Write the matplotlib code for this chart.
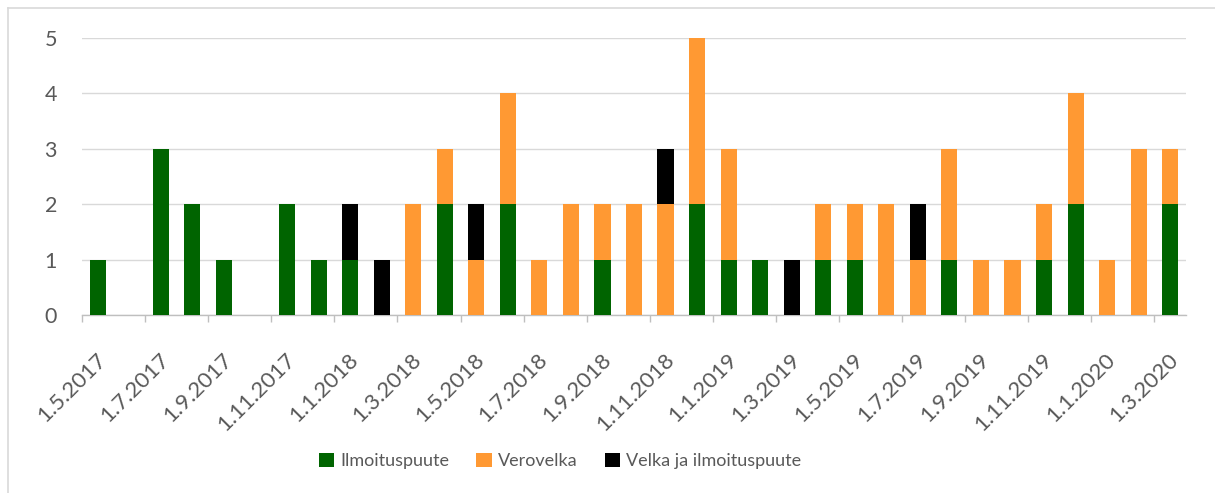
import matplotlib.pyplot as plt
import matplotlib.transforms as mtransforms
from matplotlib.lines import Line2D

plt.rcParams['font.family'] = ['Lato', 'DejaVu Sans']

months = ['1.5.2017', '1.6.2017', '1.7.2017', '1.8.2017', '1.9.2017', '1.10.2017',
          '1.11.2017', '1.12.2017', '1.1.2018', '1.2.2018', '1.3.2018', '1.4.2018',
          '1.5.2018', '1.6.2018', '1.7.2018', '1.8.2018', '1.9.2018', '1.10.2018',
          '1.11.2018', '1.12.2018', '1.1.2019', '1.2.2019', '1.3.2019', '1.4.2019',
          '1.5.2019', '1.6.2019', '1.7.2019', '1.8.2019', '1.9.2019', '1.10.2019',
          '1.11.2019', '1.12.2019', '1.1.2020', '1.2.2020', '1.3.2020']
ilmoitus = [1, 0, 3, 2, 1, 0, 2, 1, 1, 0, 0, 2, 0, 2, 0, 0, 1, 0, 0, 2, 1, 1, 0, 1, 1,
            0, 0, 1, 0, 0, 1, 2, 0, 0, 2]
verovelka = [0, 0, 0, 0, 0, 0, 0, 0, 0, 0, 2, 1, 1, 2, 1, 2, 1, 2, 2, 3, 2, 0, 0, 1, 1,
             2, 1, 2, 1, 1, 1, 2, 1, 3, 1]
velka_ilm = [0, 0, 0, 0, 0, 0, 0, 0, 1, 1, 0, 0, 1, 0, 0, 0, 0, 0, 1, 0, 0, 0, 1, 0, 0,
             0, 1, 0, 0, 0, 0, 0, 0, 0, 0]

green = '#006400'
orange = '#FF9933'
txt = '#595959'

fig = plt.figure(figsize=(12.15, 4.93), dpi=100)
ax = fig.add_axes([82/1215, 1-315/493, (1186-82)/1215, (315-37.7)/493])

x = list(range(len(months)))
bottom2 = [a + b for a, b in zip(ilmoitus, verovelka)]
w = 0.51
ax.bar(x, ilmoitus, width=w, color=green, label='Ilmoituspuute', zorder=3)
ax.bar(x, verovelka, width=w, bottom=ilmoitus, color=orange, label='Verovelka', zorder=3)
ax.bar(x, velka_ilm, width=w, bottom=bottom2, color='black',
       label='Velka ja ilmoituspuute', zorder=3)

ax.set_xlim(-0.5, len(months) - 0.5)
ax.set_ylim(0, 5)
ax.set_yticks(range(6))
ax.yaxis.grid(True, color='#D9D9D9', linewidth=1.0, zorder=0)
ax.tick_params(axis='y', length=0, pad=18, labelsize=15.5, labelcolor=txt)

tick_pos = [i - 0.5 for i in range(0, len(months), 2)]
ax.set_xticks(tick_pos)
ax.set_xticklabels(months[::2], rotation=45, ha='right', va='center',
                   rotation_mode='anchor', fontsize=16, color=txt)
ax.tick_params(axis='x', length=5, width=1, color='#BFBFBF', pad=25)
offset = mtransforms.ScaledTranslation(21/100, 0, fig.dpi_scale_trans)
for lab in ax.get_xticklabels():
    lab.set_transform(lab.get_transform() + offset)

for s in ['top', 'right', 'left']:
    ax.spines[s].set_visible(False)
ax.spines['bottom'].set_color('#BFBFBF')
ax.spines['bottom'].set_linewidth(1)

leg = fig.legend(loc='center', bbox_to_anchor=(560/1215, 1-461/493), ncol=3,
                 frameon=False, fontsize=13, handlelength=0.85, handleheight=0.85,
                 columnspacing=1.5, handletextpad=0.35)
for t in leg.get_texts():
    t.set_color(txt)

# chart border
fig.add_artist(Line2D([8/1215, 1], [1-8/493, 1-8/493], color='#D9D9D9', linewidth=1.2))
fig.add_artist(Line2D([8/1215, 8/1215], [0, 1-8/493], color='#D9D9D9', linewidth=1.2))

fig.savefig('out.png', dpi=100)
